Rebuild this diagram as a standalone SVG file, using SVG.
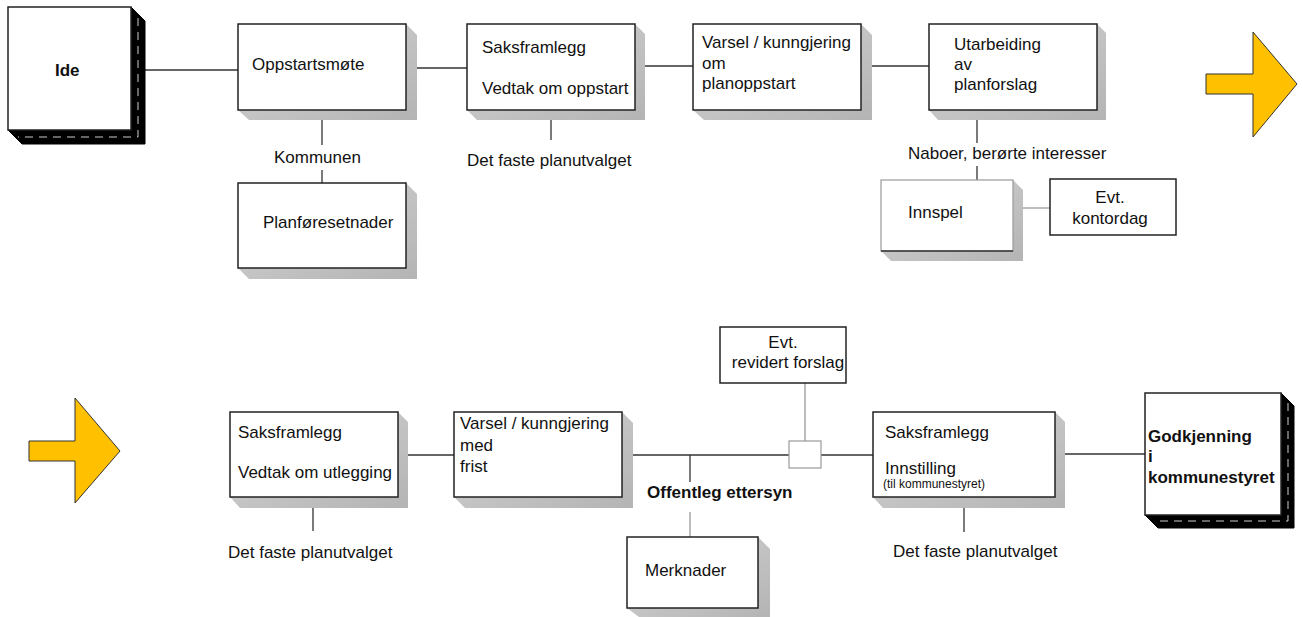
<svg xmlns="http://www.w3.org/2000/svg" width="1303" height="617" viewBox="0 0 1303 617">
<defs>
<linearGradient id="sh" x1="0" y1="0" x2="1" y2="1">
<stop offset="0" stop-color="#d4d4d4"/>
<stop offset="1" stop-color="#b4b4b4"/>
</linearGradient>
<style>
.box{fill:#fff;stroke:#222;stroke-width:1.5}
.lbox{fill:#fff;stroke:#999;stroke-width:1.2}
.sh{fill:url(#sh);stroke:none}
.bsh{fill:#000;stroke:#000;stroke-width:1}
.dash{fill:none;stroke:#fff;stroke-width:1;stroke-dasharray:8 6;opacity:0.8}
.t{font-family:"Liberation Sans",Arial,sans-serif;font-size:17px;fill:#111}
.b{font-weight:bold}
.s{font-size:12px}
.c{stroke:#333;stroke-width:1.3;fill:none}
.g{stroke:#999;stroke-width:1.3;fill:none}
.arrow{fill:#FFC000;stroke:#333;stroke-width:1}
</style>
</defs>
<rect width="1303" height="617" fill="#fff"/>

<g id="connectors">
<line class="c" x1="145" y1="70" x2="238" y2="70"/>
<line class="c" x1="417" y1="68" x2="467" y2="68"/>
<line class="c" x1="645" y1="66" x2="693" y2="66"/>
<line class="c" x1="872" y1="66" x2="929" y2="66"/>
<line class="c" x1="322" y1="120" x2="322" y2="145"/>
<line class="c" x1="322" y1="170" x2="322" y2="183"/>
<line class="c" x1="551" y1="117" x2="551" y2="140"/>
<line class="c" x1="977" y1="120" x2="977" y2="143"/>
<line class="c" x1="977" y1="166" x2="977" y2="180"/>
<line class="g" x1="1023" y1="208" x2="1050" y2="208"/>
<line class="c" x1="408" y1="455" x2="454" y2="455"/>
<line class="c" x1="633" y1="455" x2="789" y2="455"/>
<line class="c" x1="821" y1="455" x2="873" y2="455"/>
<line class="c" x1="690" y1="455" x2="690" y2="482"/>
<line class="g" x1="690" y1="512" x2="690" y2="537"/>
<line class="g" x1="805" y1="383" x2="805" y2="441"/>
<line class="c" x1="313" y1="508" x2="313" y2="531"/>
<line class="c" x1="964" y1="508" x2="964" y2="532"/>
<line class="c" x1="1065" y1="454" x2="1145" y2="454"/>
<rect class="lbox" x="789" y="441" width="32" height="27"/>
</g>

<g id="arrow-top">
<polygon class="arrow" points="1206,74 1253,74 1253,32 1297,84 1253,137 1253,94 1206,94"/>
</g>
<g id="arrow-bottom">
<polygon class="arrow" points="29,441 75,441 75,398 120,451 75,503 75,461 29,461"/>
</g>

<g id="ide">
<polygon class="bsh" points="131,7 145,21 145,144 22,144 8,130"/>
<polyline class="dash" points="138,18 138,137 18,137"/>
<rect class="box" x="8" y="7" width="123" height="123"/>
<text class="t b" x="55" y="76">Ide</text>
</g>

<g id="oppstartsmote">
<polygon class="sh" points="406,24 417,35 417,120 249,120 238,110"/>
<rect class="box" x="238" y="24" width="168" height="86"/>
<text class="t" x="252" y="70">Oppstartsmøte</text>
</g>
<text class="t" x="274" y="163">Kommunen</text>

<g id="planforesetnader">
<polygon class="sh" points="406,183 417,194 417,279 249,279 238,268"/>
<rect class="box" x="238" y="183" width="168" height="85"/>
<text class="t" x="263" y="228">Planføresetnader</text>
</g>

<g id="saksframlegg1">
<polygon class="sh" points="635,24 645,34 645,120 477,120 467,110"/>
<rect class="box" x="467" y="24" width="168" height="86"/>
<text class="t" x="482" y="53">Saksframlegg</text>
<text class="t" x="482" y="94">Vedtak om oppstart</text>
</g>
<text class="t" x="467" y="166">Det faste planutvalget</text>

<g id="varsel1">
<polygon class="sh" points="861,24 872,35 872,120 704,120 693,110"/>
<rect class="box" x="693" y="24" width="168" height="86"/>
<text class="t" x="702" y="48">Varsel / kunngjering</text>
<text class="t" x="702" y="69">om</text>
<text class="t" x="702" y="89">planoppstart</text>
</g>

<g id="utarbeiding">
<polygon class="sh" points="1097,24 1106,33 1106,120 938,120 929,110"/>
<rect class="box" x="929" y="24" width="168" height="86"/>
<text class="t" x="954" y="50">Utarbeiding</text>
<text class="t" x="954" y="70">av</text>
<text class="t" x="954" y="90">planforslag</text>
</g>
<text class="t" x="908" y="159">Naboer, berørte interesser</text>

<g id="innspel">
<polygon class="sh" points="1013,180 1023,190 1023,261 891,261 881,251"/>
<rect class="lbox" x="881" y="180" width="132" height="71"/>
<line x1="881" y1="251" x2="1013" y2="251" stroke="#333" stroke-width="1.3"/>
<text class="t" x="908" y="218">Innspel</text>
</g>

<g id="kontordag">
<rect class="box" x="1050" y="179" width="126" height="56"/>
<text class="t" x="1110" y="203" text-anchor="middle">Evt.</text>
<text class="t" x="1110" y="224" text-anchor="middle">kontordag</text>
</g>

<g id="saksframlegg2">
<polygon class="sh" points="398,412 408,422 408,508 240,508 230,497"/>
<rect class="box" x="230" y="412" width="168" height="85"/>
<text class="t" x="238" y="438">Saksframlegg</text>
<text class="t" x="238" y="478">Vedtak om utlegging</text>
</g>
<text class="t" x="228" y="558">Det faste planutvalget</text>

<g id="varsel2">
<polygon class="sh" points="622,412 633,423 633,508 465,508 454,497"/>
<rect class="box" x="454" y="412" width="168" height="85"/>
<text class="t" x="460" y="429">Varsel / kunngjering</text>
<text class="t" x="460" y="451">med</text>
<text class="t" x="460" y="472">frist</text>
</g>
<text class="t b" x="647" y="498">Offentleg ettersyn</text>

<g id="merknader">
<polygon class="sh" points="758,537 770,549 770,617 639,617 627,608"/>
<rect class="box" x="627" y="537" width="131" height="71"/>
<text class="t" x="645" y="576">Merknader</text>
</g>

<g id="revidert">
<rect class="box" x="720" y="327" width="126" height="56"/>
<text class="t" x="783" y="348" text-anchor="middle">Evt.</text>
<text class="t" x="788" y="368" text-anchor="middle">revidert forslag</text>
</g>

<g id="saksframlegg3">
<polygon class="sh" points="1055,412 1065,422 1065,508 883,508 873,497"/>
<rect class="box" x="873" y="412" width="182" height="85"/>
<text class="t" x="885" y="438">Saksframlegg</text>
<text class="t" x="885" y="474">Innstilling</text>
<text class="t s" x="883" y="488">(til kommunestyret)</text>
</g>
<text class="t" x="893" y="557">Det faste planutvalget</text>

<g id="godkjenning">
<polygon class="bsh" points="1281,393 1294,406 1294,528 1158,528 1145,515"/>
<polyline class="dash" points="1288,403 1288,521 1156,521"/>
<rect class="box" x="1145" y="393" width="136" height="122"/>
<text class="t b" x="1148" y="442">Godkjenning</text>
<text class="t b" x="1148" y="462">i</text>
<text class="t b" x="1148" y="483">kommunestyret</text>
</g>
</svg>
